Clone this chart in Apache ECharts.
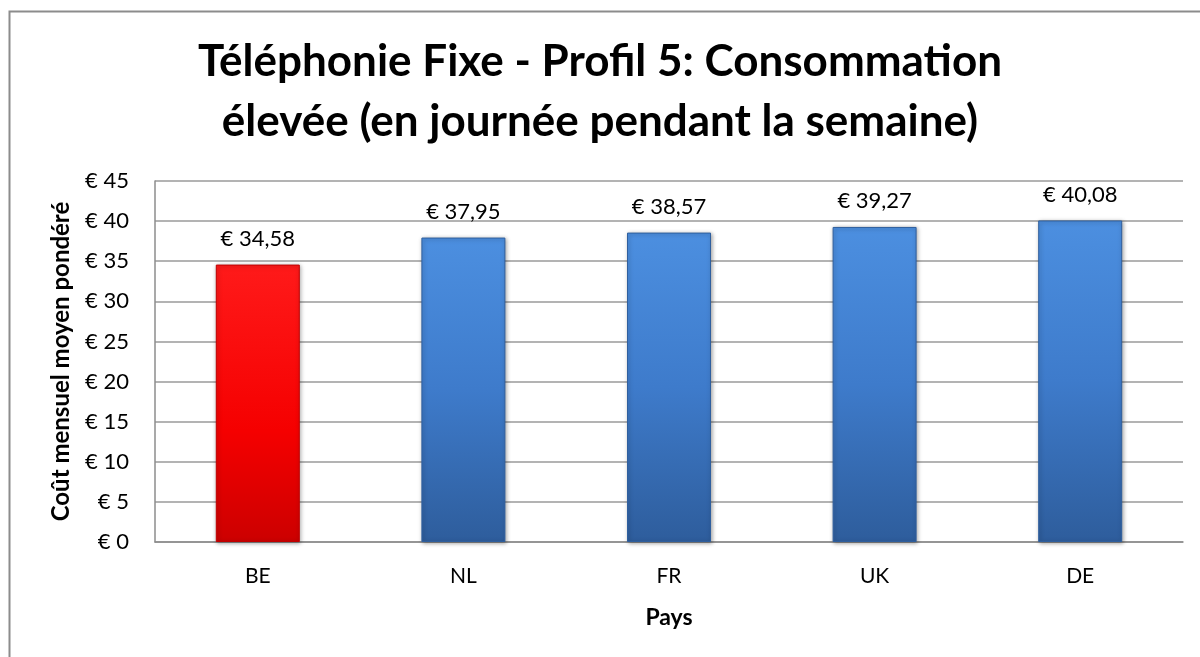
<!DOCTYPE html>
<html>
<head>
<meta charset="utf-8">
<script src="https://cdn.jsdelivr.net/npm/echarts@6/dist/echarts.min.js"></script>
<style>
  html, body { margin: 0; padding: 0; background: #fff; }
  #chart { width: 1200px; height: 657px; }
</style>
</head>
<body>
<div id="chart"></div>
<script>
var pays = ['BE', 'NL', 'FR', 'UK', 'DE'];
var couts = [34.58, 37.95, 38.57, 39.27, 40.08];
var yTicks = [0, 5, 10, 15, 20, 25, 30, 35, 40, 45];

var font = 'Lato';

function euro(v) {
    return '€ ' + v.toFixed(2).replace('.', ',');
}

var blue = new echarts.graphic.LinearGradient(0, 0, 0, 1, [
    {offset: 0, color: '#4c8fe0'},
    {offset: 0.5, color: '#3e7bcb'},
    {offset: 1, color: '#2e5d9c'}
]);
var red = new echarts.graphic.LinearGradient(0, 0, 0, 1, [
    {offset: 0, color: '#ff1a1a'},
    {offset: 0.6, color: '#f50000'},
    {offset: 1, color: '#cc0000'}
]);

var myChart = echarts.init(document.getElementById('chart'));

var option = {
    backgroundColor: '#fff',
    animation: false,
    graphic: [{
        type: 'rect',
        shape: {x: 9.5, y: 11.5, width: 1300, height: 800},
        style: {fill: 'none', stroke: '#8c8c8c', lineWidth: 2},
        silent: true
    }],
    title: {
        text: 'Téléphonie Fixe - Profil 5: Consommation\nélevée (en journée pendant la semaine)',
        left: 'center',
        top: 27,
        textStyle: {
            fontFamily: font,
            fontWeight: 'bold',
            fontSize: 44,
            lineHeight: 60,
            color: '#000'
        }
    },
    grid: {
        left: 155,
        right: 17,
        top: 181,
        bottom: 115,
        containLabel: false
    },
    xAxis: {
        type: 'category',
        data: pays,
        name: 'Pays',
        nameLocation: 'middle',
        nameGap: 64,
        nameTextStyle: {fontFamily: font, fontWeight: 'bold', fontSize: 23, color: '#000'},
        axisLine: {lineStyle: {color: '#8c8c8c', width: 1.5}},
        axisTick: {show: false},
        axisLabel: {fontFamily: font, fontSize: 21, color: '#000', margin: 24}
    },
    yAxis: {
        type: 'value',
        min: yTicks[0],
        max: yTicks[yTicks.length - 1],
        interval: 5,
        name: 'Coût mensuel moyen pondéré',
        nameLocation: 'middle',
        nameGap: 82,
        nameTextStyle: {fontFamily: font, fontWeight: 'bold', fontSize: 24, color: '#000'},
        axisLine: {show: true, lineStyle: {color: '#8c8c8c', width: 1.5}},
        axisTick: {show: false},
        splitLine: {lineStyle: {color: '#9a9a9a', width: 1.5}},
        axisLabel: {
            fontFamily: font, fontSize: 22, color: '#000', margin: 26,
            formatter: function (v) { return '€ ' + v; }
        }
    },
    series: [{
        type: 'bar',
        barWidth: 84,
        data: couts.map(function (v, i) {
            return {
                value: v,
                itemStyle: {
                    color: i === 0 ? red : blue,
                    borderColor: i === 0 ? '#c00000' : '#2f5f9e',
                    borderWidth: 1,
                    shadowColor: 'rgba(0,0,0,0.35)',
                    shadowBlur: 4,
                    shadowOffsetX: 1,
                    shadowOffsetY: 1
                }
            };
        }),
        label: {
            show: true,
            position: 'top',
            distance: 15,
            fontFamily: font,
            fontSize: 22,
            color: '#000',
            formatter: function (p) { return euro(p.value); }
        }
    }]
};

myChart.setOption(option);
</script>
</body>
</html>
